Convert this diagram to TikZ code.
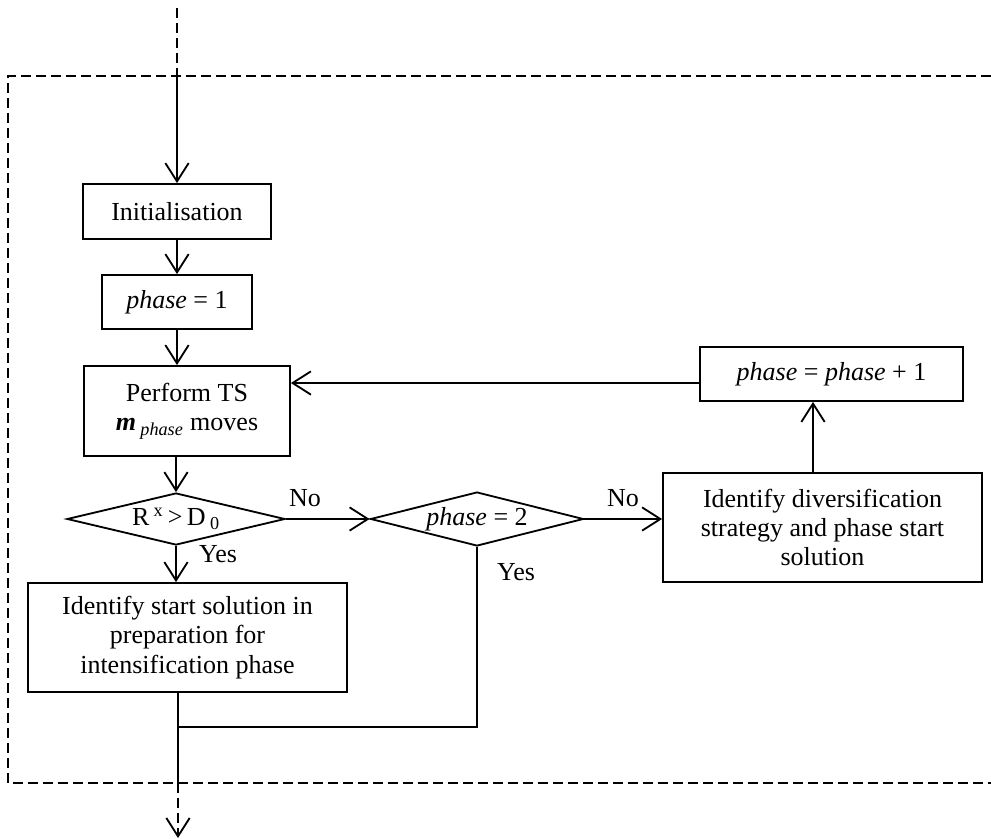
\documentclass[tikz,border=0pt]{standalone}
\usepackage{fontspec}
\setmainfont{Liberation Serif}
\usetikzlibrary{shapes.geometric,arrows.meta}
\begin{document}
\begin{tikzpicture}[x=0.6pt,y=-0.6pt,
  line width=1.1pt,
  every node/.style={font=\fontsize{15.6}{17.6}\selectfont},
  box/.style={draw, rectangle, inner sep=0pt, align=center},
  decision/.style={draw, diamond, inner sep=0pt, aspect=4},
  arr/.style={-{Straight Barb[length=11pt,width=14pt]}},
  frame/.style={dash pattern=on 6pt off 3pt}]
\useasboundingbox (0,0) rectangle (991,839);

% process boxes and decisions
\node[box, minimum width=112.8pt, minimum height=33pt] (init) at (177,211.5) {Initialisation};
\node[box, minimum width=90pt, minimum height=32.4pt] (ph1) at (177,302) {\textit{phase} = 1};
\node[box, minimum width=123.6pt, minimum height=54pt] (ts) at (187,411)
  {Perform TS\\\textbf{\textit{m}}\,\textsubscript{\textit{phase}} moves};
\node[decision, minimum width=130.8pt, minimum height=31.2pt] (d1) at (176,519)
  {R\,\textsuperscript{x}\,>\,D\,\textsubscript{0}};
\node[decision, minimum width=127.8pt, minimum height=32.4pt] (d2) at (477,519) {\textit{phase} = 2};
\node[box, minimum width=191.4pt, minimum height=65.4pt] (div) at (822.5,527.5)
  {Identify diversification\\strategy and phase start\\solution};
\node[box, minimum width=157.8pt, minimum height=32.4pt] (inc) at (831.5,374)
  {\textit{phase} = \textit{phase} + 1};
\node[box, minimum width=191.4pt, minimum height=65.4pt] (start) at (187.5,637.5)
  {Identify start solution in\\preparation for\\intensification phase};

% branch labels
\node (no1) at (305,498) {No};
\node (no2) at (623,498) {No};
\node (yes1) at (218,554) {Yes};
\node (yes2) at (516,572) {Yes};

% helper points
\coordinate (entry) at (177,8);
\coordinate (ftop) at (177,76);
\coordinate (back) at (0,383);
\coordinate (up) at (813,0);
\coordinate (join) at (178,727);
\coordinate (fbot) at (178,783);
\coordinate (exit) at (178,838);

% dashed frame round the procedure
\draw[frame] (991,76) -- (8,76) -- (8,783) -- (991,783);

% connectors
\draw[frame] (entry) -- (ftop);
\draw[arr] (ftop) -- (init.north);
\draw[arr] (init.south) -- (ph1.north);
\draw[arr] (ph1.south) -- (ph1.south |- ts.north);
\draw[arr] (d1.north |- ts.south) -- (d1.north);
\draw[arr] (d1.east) -- (d2.west);
\draw[arr] (d2.east) -- (div.west |- d2.east);
\draw[arr] (up |- div.north) -- (up |- inc.south);
\draw[arr] (inc.west |- back) -- (ts.east |- back);
\draw[arr] (d1.south) -- (start.north -| d1.south);
\draw (d2.south) -- (d2.south |- join) -- (join);
\draw (join |- start.south) -- (fbot);
\draw[frame, arr] (fbot) -- (exit);
\end{tikzpicture}
\end{document}
